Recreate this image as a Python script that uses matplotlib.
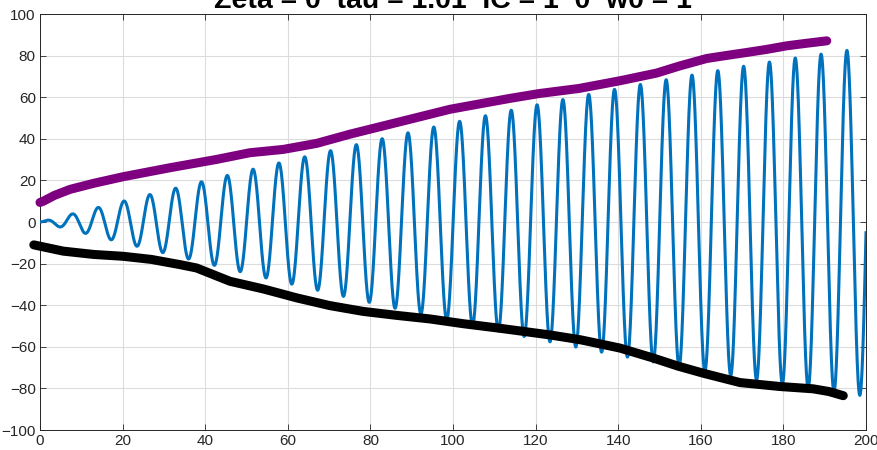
import numpy as np
import matplotlib.pyplot as plt

# system parameters (undamped oscillator driven slightly off resonance)
zeta = 0
w0 = 1.0
w_drive = 1.01
t_end = 200

# hand traced envelopes: (t, amplitude)
upper_t = [0.0, 0.8, 3.5, 7.3, 13.0, 20.2, 31.5, 42.8, 50.8, 58.9, 67.0, 75.0, 83.1,
           91.2, 99.3, 107.3, 114.0, 121.0, 130.5, 140.4, 149.3, 155.0, 161.4, 166.0,
           171.1, 176.0, 180.8, 185.5, 190.5]
upper_y = [9.4, 10.0, 12.8, 15.7, 18.6, 21.8, 26.1, 30.1, 33.3, 34.9, 37.8, 42.2, 46.2,
           50.2, 54.2, 57.1, 59.5, 61.8, 64.2, 67.9, 71.6, 75.1, 78.6, 80.0,
           81.5, 83.0, 84.7, 85.9, 87.1]
lower_t = [-1.5, 5.6, 13.0, 20.2, 27.0, 33.9, 37.9, 46.0, 54.1, 62.2, 70.2, 78.3, 86.4,
           94.4, 102.5, 111.0, 123.5, 130.8, 140.4, 148.5, 154.5, 160.6, 169.5, 179.2,
           187.2, 191.0, 194.5]
lower_y = [-11.0, -14.0, -15.6, -16.5, -18.0, -20.5, -22.1, -28.5, -32.2, -36.5, -40.2, -43.0, -44.9,
           -46.6, -48.9, -51.0, -54.3, -56.6, -60.6, -65.4, -69.3, -72.7, -77.2, -79.1,
           -80.2, -81.5, -83.5]

t = np.linspace(0, t_end, 8000)
x = (np.cos(w0 * t) - np.cos(w_drive * t)) / (w_drive**2 - w0**2)

plt.rcParams['font.family'] = ['Liberation Sans', 'DejaVu Sans']

fig = plt.figure(figsize=(8.77, 4.5), dpi=100)
ax = fig.add_axes([40/877, 20/450, 826/877, 416/450])

ax.plot(t, x, color='#0072BD', lw=2.2, zorder=3)
ax.plot(upper_t, upper_y, color='#7E0080', lw=6.5, solid_capstyle='round',
        solid_joinstyle='round', zorder=4, clip_on=False)
ax.plot(lower_t, lower_y, color='black', lw=6.5, solid_capstyle='round',
        solid_joinstyle='round', zorder=4, clip_on=False)

ax.set_xlim(0, 200)
ax.set_ylim(-100, 100)
ax.set_xticks(np.arange(0, 201, 20))
ax.set_yticks(np.arange(-100, 101, 20))
ax.grid(True, color='#dcdcdc', lw=0.8)
ax.set_axisbelow(True)
ax.tick_params(direction='in', top=True, right=True, length=4, width=0.6,
               labelsize=11, colors='#262626', pad=3)
for s in ax.spines.values():
    s.set_color('#262626')
    s.set_linewidth(0.7)

fig.text(453/877, (450 - 8)/450, 'Zeta = 0  tau = 1.01  IC = 1  0  w0 = 1',
         ha='center', va='baseline', fontsize=20.5, fontweight='bold')

fig.savefig('out.png', dpi=100)
